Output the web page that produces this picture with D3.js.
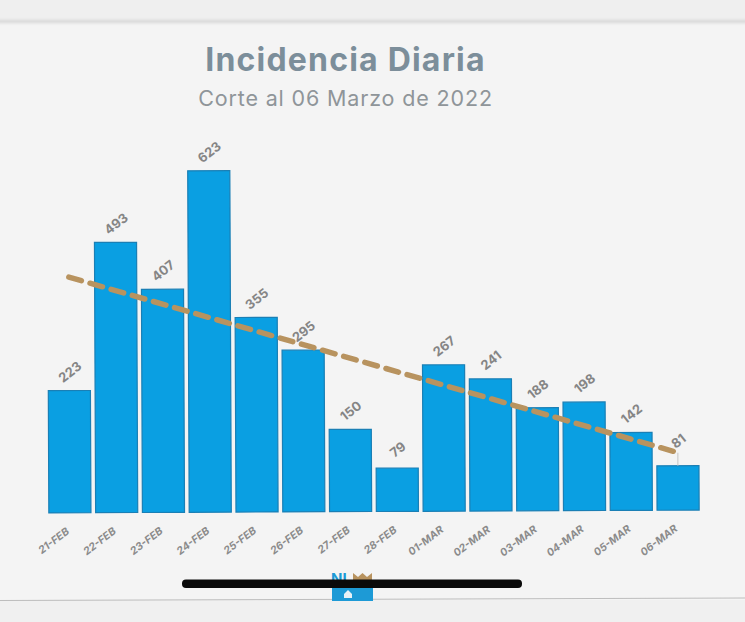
<!DOCTYPE html>
<html lang="es">
<head>
<meta charset="utf-8">
<title>Incidencia Diaria</title>
<script src="https://cdn.jsdelivr.net/npm/d3@7/dist/d3.min.js"></script>
<style>
  html, body { margin: 0; padding: 0; background: #f3f3f3; }
  svg { display: block; }
  text { font-family: "Inter", "Open Sans", sans-serif; }
</style>
</head>
<body>
<svg id="chart" width="745" height="622"></svg>
<script>
// Daily case counts
const categories = ["21-FEB","22-FEB","23-FEB","24-FEB","25-FEB","26-FEB","27-FEB","28-FEB","01-MAR","02-MAR","03-MAR","04-MAR","05-MAR","06-MAR"];
const values = [223,493,407,623,355,295,150,79,267,241,188,198,142,81];
// Linear trend, first and last day
const trendDays = ["21-FEB","06-MAR"];
const trendValues = [430,105];

const titleText = "Incidencia Diaria";
const subtitleText = "Corte al 06 Marzo de 2022";

const W = 745, H = 622;
const baseY = 511.5, plotTop = 170;

const svg = d3.select("#chart");
const defs = svg.append("defs");
const soft = defs.append("filter").attr("id","soft").attr("x","-5%").attr("width","110%").attr("y","-100%").attr("height","300%");
soft.append("feGaussianBlur").attr("stdDeviation",1.6);

// Page surface, with the strip above and below it
svg.append("rect").attr("width",W).attr("height",H).attr("fill","#f4f4f4");
svg.append("rect").attr("width",W).attr("height",22).attr("fill","#efefef");
svg.append("rect").attr("x",-10).attr("y",20).attr("width",W+20).attr("height",3).attr("fill","#d6d6d6").attr("filter","url(#soft)");
svg.append("rect").attr("y",600).attr("width",W).attr("height",22).attr("fill","#f0f0f0");
svg.append("line").attr("x1",0).attr("x2",W).attr("y1",600.5).attr("y2",598)
  .attr("stroke","#bdbdbd").attr("stroke-width",1);

// Titles
svg.append("text").attr("x",345.5).attr("y",71).attr("text-anchor","middle")
  .attr("font-size",32).attr("font-weight",700).attr("letter-spacing",1.2)
  .attr("fill","#7c8e9a").text(titleText);
svg.append("text").attr("x",345.5).attr("y",106).attr("text-anchor","middle")
  .attr("font-size",21.5).attr("font-weight",400).attr("letter-spacing",0.85)
  .attr("fill","#8f9599").text(subtitleText);

// The plot leans very slightly upward to the right
const plot = svg.append("g").attr("transform",`rotate(-0.25 ${W/2} ${baseY})`);

const x = d3.scaleBand().domain(categories).range([46.5,701.5]).paddingInner(0.1).paddingOuter(0.05);
const y = d3.scaleLinear().domain([0,623]).range([baseY,plotTop]);

plot.selectAll("rect.bar").data(categories).join("rect")
  .attr("class","bar")
  .attr("x",d => x(d))
  .attr("width",x.bandwidth())
  .attr("y",(d,i) => y(values[i]))
  .attr("height",(d,i) => y(0)-y(values[i]))
  .attr("fill","#0a9fe2")
  .attr("stroke","#1a7fb5")
  .attr("stroke-width",1.2);

// Thin leader from the last bar up to its label
const last = categories[categories.length-1];
plot.append("line")
  .attr("x1",x(last)+x.bandwidth()/2).attr("x2",x(last)+x.bandwidth()/2)
  .attr("y1",y(values[values.length-1])).attr("y2",y(values[values.length-1])-13)
  .attr("stroke","#c4c4c4").attr("stroke-width",1);

// Dashed trend
const trendLine = d3.line().x(d => x(d.day)+x.bandwidth()/2).y(d => y(d.value));
plot.append("path")
  .datum(trendDays.map((day,i) => ({day,value:trendValues[i]})))
  .attr("d",trendLine)
  .attr("fill","none").attr("stroke","#b8935f").attr("stroke-width",5.5)
  .attr("stroke-dasharray","13 9").attr("stroke-linecap","round");

// Value labels, tilted
plot.selectAll("text.value").data(categories).join("text")
  .attr("class","value")
  .attr("text-anchor","middle")
  .attr("transform",(d,i) => {
    const isLast = i === values.length-1;
    const lift = isLast ? 21 : 15;
    return `translate(${x(d)+x.bandwidth()/2+3.5},${y(values[i])-lift}) rotate(-38)`;
  })
  .attr("font-size",13).attr("font-weight",700).attr("fill","#858585")
  .text((d,i) => values[i]);

// Day axis
const axis = plot.append("g").attr("transform",`translate(0,${baseY})`)
  .call(d3.axisBottom(x).tickSize(0).tickPadding(0));
axis.select(".domain").remove();
axis.selectAll("text")
  .attr("text-anchor","end")
  .attr("dy",0)
  .attr("transform","translate(0,20) rotate(-37)")
  .attr("font-size",10.5).attr("font-weight",700).attr("font-style","italic")
  .attr("fill","#8b8b8b")
  .style("font-family",'"Inter", "Open Sans", sans-serif');

// Footer logo, mostly hidden behind the dark bar
const logo = svg.append("g");
logo.append("text").attr("x",331).attr("y",584).attr("font-size",15).attr("font-weight",700).attr("fill","#1d9ad6").text("NI");
logo.append("path").attr("d",d3.line()([[353,581],[353,573],[358,577],[362.5,573],[367,577],[372,573],[372,581]])).attr("fill","#b8935f");
logo.append("rect").attr("x",332).attr("y",582).attr("width",41).attr("height",19).attr("fill","#1d9ad6");
logo.append("path").attr("d",d3.line()([[344,598],[344,594],[348,590],[352,594],[352,598]])).attr("fill","#e8f1f6");
svg.append("rect").attr("x",182).attr("y",579.5).attr("width",340).attr("height",8.5).attr("rx",4).attr("fill","#0a0a0a");
</script>
</body>
</html>
